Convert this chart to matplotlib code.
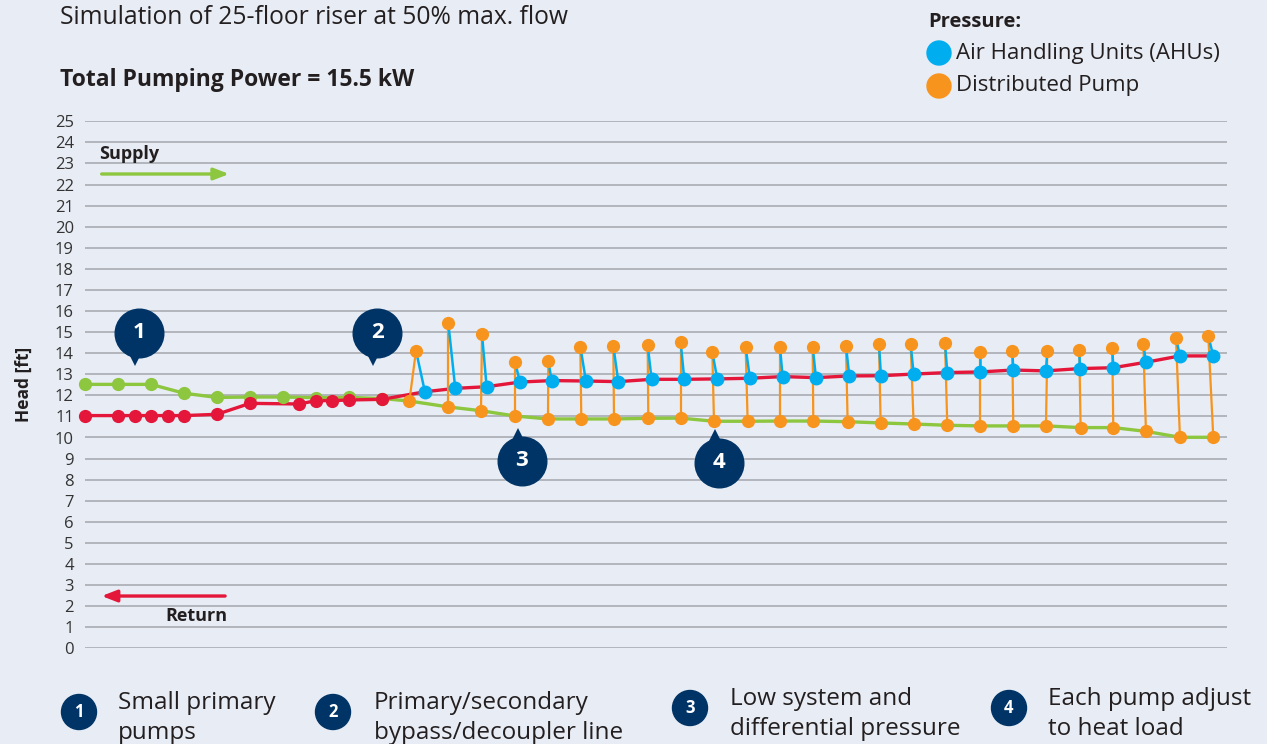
import matplotlib.pyplot as plt
from matplotlib.patches import Ellipse

plt.rcParams['font.family'] = ['Open Sans', 'DejaVu Sans']

BG = '#E8ECF4'
GREEN = '#8DC63F'
RED = '#E4163A'
ORANGE = '#F7941D'
BLUE = '#00AEEF'
NAVY = '#003466'
TEXT = '#231F20'

# primary loop, position along the riser (1 unit = one pipe segment)
supply_x = [0, 1, 2, 3, 4, 5, 6, 7, 8, 9]
supply_head = [12.52, 12.52, 12.52, 12.1, 11.9, 11.92, 11.92, 11.89, 11.9, 11.85]
return_x = [0, 1, 1.5, 2, 2.5, 3, 4, 5, 6.5, 7, 7.5, 8, 9]
return_head = [11.04, 11.04, 11.04, 11.04, 11.04, 11.04, 11.1, 11.62, 11.59,
               11.75, 11.75, 11.78, 11.81]

# 25 floors: distributed pump inlet / outlet and AHU pressure
pump_x = [9.83, 11.01, 12.0, 13.03, 14.03, 15.04, 16.03, 17.07, 18.05, 19.06,
          20.08, 21.06, 22.07, 23.11, 24.11, 25.11, 26.13, 27.12, 28.13, 29.12,
          30.17, 31.16, 32.15, 33.18, 34.19]
pump_in = [11.73, 11.45, 11.27, 11.02, 10.88, 10.88, 10.88, 10.91, 10.92, 10.77,
           10.77, 10.78, 10.78, 10.75, 10.69, 10.64, 10.58, 10.55, 10.55, 10.55,
           10.47, 10.47, 10.29, 10.01, 10.01]
pump_out_x = [10.03, 11.01, 12.03, 13.03, 14.04, 15.01, 16.01, 17.05, 18.05, 19.01,
              20.02, 21.06, 22.05, 23.06, 24.06, 25.02, 26.06, 27.12, 28.1, 29.16,
              30.13, 31.13, 32.07, 33.06, 34.04]
pump_out = [14.12, 15.42, 14.9, 13.6, 13.64, 14.31, 14.34, 14.39, 14.52, 14.04,
            14.28, 14.28, 14.31, 14.36, 14.42, 14.42, 14.5, 14.04, 14.12, 14.09,
            14.14, 14.23, 14.44, 14.73, 14.81]
ahu_x = [10.3, 11.22, 12.17, 13.18, 14.14, 15.18, 16.16, 17.17, 18.16, 19.16,
         20.15, 21.14, 22.15, 23.16, 24.12, 25.11, 26.13, 27.12, 28.13, 29.12,
         30.15, 31.16, 32.15, 33.18, 34.19]
ahu_head = [12.17, 12.33, 12.41, 12.63, 12.7, 12.68, 12.65, 12.76, 12.76, 12.78,
            12.81, 12.89, 12.84, 12.92, 12.93, 13.01, 13.08, 13.11, 13.2, 13.16,
            13.27, 13.31, 13.57, 13.87, 13.87]

notes = ['Small primary\npumps', 'Primary/secondary\nbypass/decoupler line',
         'Low system and\ndifferential pressure', 'Each pump adjust\nto heat load']

W, H = 1267, 744


def fig_dot(cx, cy, r, color):
    # round dot placed in pixel coords of the figure
    fig.add_artist(Ellipse((cx / W, 1 - cy / H), 2 * r / W, 2 * r / H,
                           color=color, transform=fig.transFigure))


fig = plt.figure(figsize=(W / 100, H / 100), dpi=100, facecolor=BG)
ax = fig.add_axes([85 / W, 1 - 648.3 / H, 1142 / W, 527 / H])
ax.set_facecolor(BG)
ax.set_xlim(0, 1142 / 33)
ax.set_ylim(0, 25)
ax.set_yticks(range(0, 26))
ax.set_xticks([])
ax.tick_params(axis='y', length=0, pad=8, labelsize=12, labelcolor='#333333')
for s in ax.spines.values():
    s.set_visible(False)
ax.grid(axis='y', color='#A3A6AD', lw=1.1)
ax.set_axisbelow(True)
ax.set_ylabel('Head [ft]', fontsize=12.5, fontweight='bold', color=TEXT, labelpad=16)

# supply and return lines
ax.plot(supply_x + pump_x, supply_head + pump_in, color=GREEN, lw=2.4, zorder=3)
ax.plot(supply_x, supply_head, 'o', color=GREEN, ms=8.5, zorder=4, clip_on=False)
ax.plot(return_x + ahu_x, return_head + ahu_head, color=RED, lw=2.4, zorder=3)
ax.plot(return_x, return_head, 'o', color=RED, ms=8.5, zorder=5, clip_on=False)

# pump lift and drop to each AHU
for i in range(len(pump_x)):
    ax.plot([pump_x[i], pump_out_x[i]], [pump_in[i], pump_out[i]],
            color=ORANGE, lw=1.6, zorder=6)
    ax.plot([pump_out_x[i], ahu_x[i]], [pump_out[i], ahu_head[i]],
            color=BLUE, lw=1.8, zorder=6)
ax.plot(pump_x, pump_in, 'o', color=ORANGE, ms=8.5, zorder=7)
ax.plot(pump_out_x, pump_out, 'o', color=ORANGE, ms=8.5, zorder=7)
ax.plot(ahu_x, ahu_head, 'o', color=BLUE, ms=9, zorder=7)

# flow direction arrows
ax.annotate('', xy=(4.45, 22.5), xytext=(0.42, 22.5),
            arrowprops=dict(arrowstyle='-|>,head_length=0.9,head_width=0.35',
                            color=GREEN, lw=2.4))
ax.text(0.42, 23.45, 'Supply', fontsize=13, fontweight='bold', color=TEXT,
        va='center')
ax.annotate('', xy=(0.42, 2.48), xytext=(4.33, 2.48),
            arrowprops=dict(arrowstyle='-|>,head_length=0.9,head_width=0.35',
                            color=RED, lw=2.4))
ax.text(4.33, 1.55, 'Return', fontsize=13, fontweight='bold', color=TEXT,
        ha='right', va='center')

# callout bubbles
bubbles = [(1.64, 14.96, 'v'), (8.85, 14.96, 'v'), (13.24, 8.89, '^'), (19.21, 8.8, '^')]
for k, (bx, by, tail) in enumerate(bubbles):
    ty = by - 1.2 if tail == 'v' else by + 1.2
    ax.plot(bx - 0.12, ty, marker=tail, color=NAVY, ms=12, mew=0, zorder=8)
    ax.plot(bx, by, 'o', color=NAVY, ms=35, zorder=8)
    ax.text(bx, by, str(k + 1), color='white', fontsize=16, fontweight='bold',
            ha='center', va='center', zorder=9)

# titles and legend
fig.text(60 / W, 1 - 18 / H, 'Simulation of 25-floor riser at 50% max. flow',
         fontsize=17.7, color=TEXT, va='center')
fig.text(60 / W, 1 - 80 / H, 'Total Pumping Power = 15.5 kW',
         fontsize=16.5, fontweight='bold', color=TEXT, va='center')
fig.text(928 / W, 1 - 22 / H, 'Pressure:', fontsize=14.5, fontweight='bold',
         color=TEXT, va='center')
for yy, col, lab in [(53, BLUE, 'Air Handling Units (AHUs)'), (86, ORANGE, 'Distributed Pump')]:
    fig_dot(939, yy, 12, col)
    fig.text(956 / W, 1 - yy / H, lab, fontsize=16, color=TEXT, va='center')

# numbered notes along the bottom
note_pos = [(79, 712, 118), (333, 712, 374), (690, 708, 730), (1009, 708, 1048)]
for k, (cx, cy, tx) in enumerate(note_pos):
    fig_dot(cx, cy, 17.5, NAVY)
    fig.text(cx / W, 1 - cy / H, str(k + 1), color='white', fontsize=12,
             fontweight='bold', ha='center', va='center')
    fig.text(tx / W, 1 - (cy + 6) / H, notes[k], fontsize=17.5, color=TEXT,
             va='center', linespacing=1.32)

fig.savefig('out.png', dpi=100, facecolor=BG)
